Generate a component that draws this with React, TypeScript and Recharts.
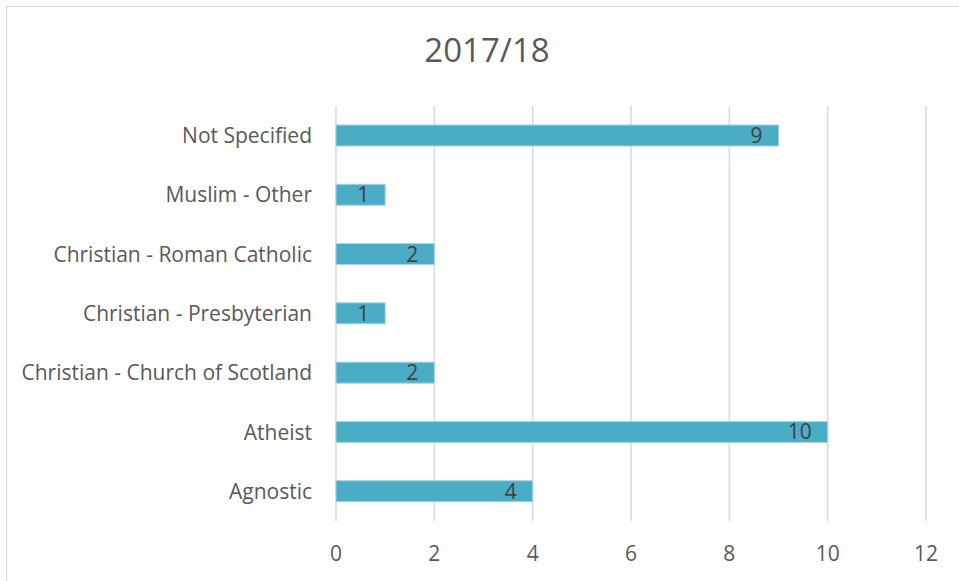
import { BarChart, Bar, XAxis, YAxis, CartesianGrid, LabelList } from "recharts";

const categories = [
  "Not Specified",
  "Muslim - Other",
  "Christian - Roman Catholic",
  "Christian - Presbyterian",
  "Christian - Church of Scotland",
  "Atheist",
  "Agnostic",
];
const counts = [9, 1, 2, 1, 2, 10, 4];
const xTicks = [0, 2, 4, 6, 8, 10, 12];

const data = categories.map((name, i) => ({ name, count: counts[i] }));

const FONT = "'Open Sans', sans-serif";

export default function App() {
  return (
    <div
      style={{
        position: "absolute",
        left: 0,
        top: 0,
        width: 959,
        height: 581,
        overflow: "hidden",
        background: "#fff",
        fontFamily: FONT,
      }}
    >
      <div
        style={{
          position: "absolute",
          left: 6,
          top: 6,
          width: 970,
          height: 600,
          border: "1.5px solid #d9d9d9",
        }}
      />
      <div
        style={{
          position: "absolute",
          left: 0,
          width: 974,
          top: 28,
          textAlign: "center",
          fontSize: 33,
          color: "#595959",
          lineHeight: "44px",
        }}
      >
        2017/18
      </div>
      <div style={{ position: "absolute", left: 0, top: 0 }}>
        <BarChart
          width={959}
          height={581}
          data={data}
          layout="vertical"
          margin={{ top: 106, right: 33, bottom: 30, left: 0 }}
          barCategoryGap={0}
        >
          <CartesianGrid
            horizontal={false}
            stroke="#d9d9d9"
            strokeWidth={1.5}
          />
          <XAxis
            type="number"
            domain={[0, 12]}
            ticks={xTicks}
            axisLine={false}
            tickLine={false}
            tickMargin={19}
            height={30}
            interval={0}
            tick={{ fill: "#595959", fontSize: 21, fontFamily: FONT }}
          />
          <YAxis
            type="category"
            dataKey="name"
            width={336}
            axisLine={false}
            tickLine={false}
            tickMargin={18}
            interval={0}
            tick={{ fill: "#595959", fontSize: 21, fontFamily: FONT }}
          />
          <Bar
            dataKey="count"
            fill="#4bacc6"
            stroke="#a5d5e2"
            strokeWidth={1}
            barSize={21}
            isAnimationActive={false}
          >
            <LabelList
              dataKey="count"
              position="insideRight"
              offset={16}
              fill="#404040"
              fontSize={21}
              fontFamily={FONT}
            />
          </Bar>
        </BarChart>
      </div>
    </div>
  );
}
